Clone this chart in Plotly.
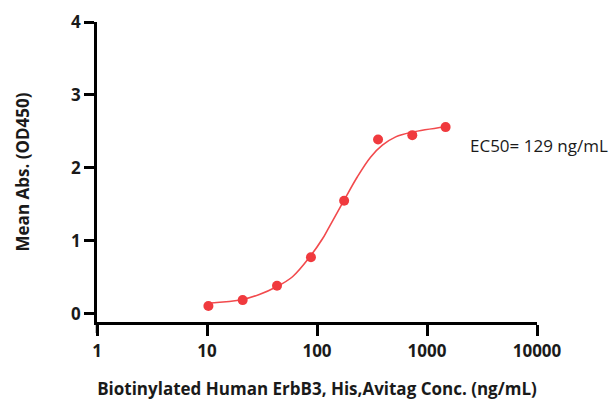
import plotly.graph_objects as go

# Measured points
conc = [10.3, 21.1, 43.3, 88.1, 176.5, 359, 735, 1476]
od450 = [0.11, 0.19, 0.387, 0.776, 1.55, 2.39, 2.45, 2.56]

# Fitted curve
curve_conc = [10.3, 21.0, 29.9, 42.9, 59.9, 86.2, 112.2, 124.5, 176.5, 233, 308, 393, 519.5, 730, 1476]
curve_od = [0.146, 0.198, 0.267, 0.373, 0.510, 0.784, 1.03, 1.15, 1.559, 1.88, 2.151, 2.312, 2.426, 2.49, 2.565]

x_tickvals = [1, 10, 100, 1000, 10000]
x_ticktext = ["1", "10", "100", "1000", "10000"]
y_tickvals = [0, 1, 2, 3, 4]

red = "#F03A3E"
font_family = "Open Sans"

fig = go.Figure()
fig.add_trace(go.Scatter(x=curve_conc, y=curve_od, mode="lines",
                         line=dict(color="#F24A4D", width=1.6, shape="spline", smoothing=1.0),
                         hoverinfo="skip", showlegend=False))
fig.add_trace(go.Scatter(x=conc, y=od450, mode="markers",
                         marker=dict(color=red, size=10),
                         showlegend=False, cliponaxis=False))

fig.update_layout(
    width=616, height=400, autosize=False,
    margin=dict(l=97, r=79, t=22, b=78),
    paper_bgcolor="white", plot_bgcolor="white",
    font=dict(family=font_family, color="#1a1a1a"),
    xaxis=dict(type="log", range=[0, 4], tickvals=x_tickvals, ticktext=x_ticktext,
               automargin=False,
               showline=True, linecolor="black", linewidth=2.5,
               ticks="outside", ticklen=11, tickwidth=2.5, tickcolor="black",
               showgrid=False, zeroline=False, ticklabelstandoff=1,
               tickfont=dict(size=17, family=font_family, weight="bold"),
               title=dict(text="Biotinylated Human ErbB3, His,Avitag Conc. (ng/mL)",
                          font=dict(size=17, family=font_family, weight="bold"), standoff=23)),
    yaxis=dict(range=[-0.11, 4], tickvals=y_tickvals,
               automargin=False,
               showline=True, linecolor="black", linewidth=2.5,
               ticks="outside", ticklen=10, tickwidth=2.5, tickcolor="black",
               showgrid=False, zeroline=False,
               tickfont=dict(size=17, family=font_family, weight="bold"),
               title=dict(text="Mean Abs. (OD450)",
                          font=dict(size=17, family=font_family, weight="bold"), standoff=38)),
    shapes=[dict(type="line", xref="paper", yref="paper", x0=0, x1=0, y0=0, y1=-11/300,
                 line=dict(color="black", width=2.5))],
    annotations=[dict(text="EC50= 129 ng/mL", xref="paper", yref="paper",
                      x=(468-97)/440, y=(322-145)/300, xanchor="left", yanchor="middle",
                      showarrow=False, font=dict(size=17, family=font_family, color="#1a1a1a"))],
)

fig.write_html("out.html", config={"displayModeBar": False},
               post_script="document.body.style.margin='0';document.body.style.overflow='hidden';")
